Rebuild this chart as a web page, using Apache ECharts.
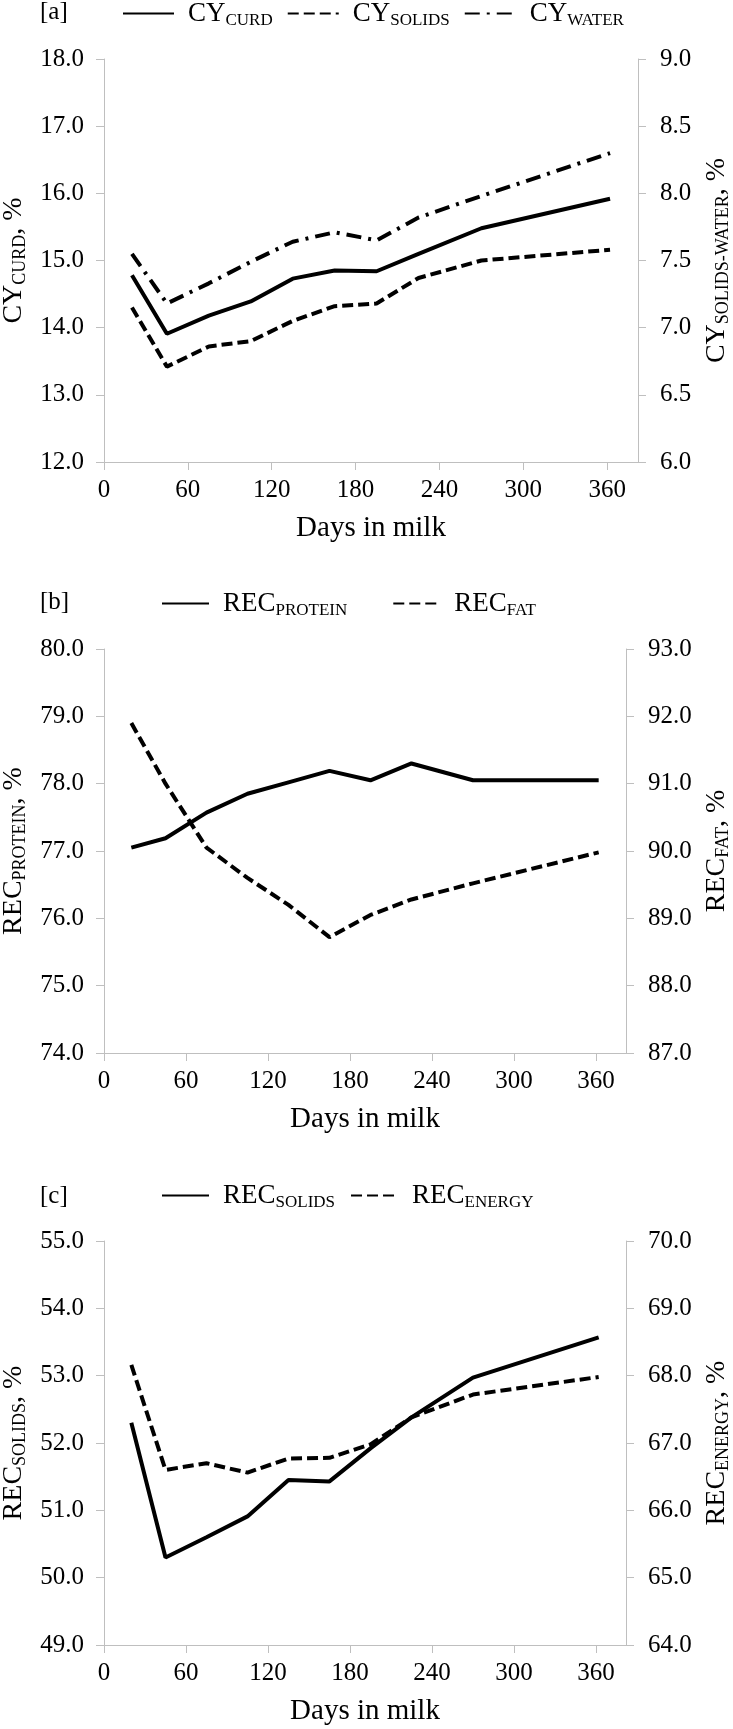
<!DOCTYPE html>
<html>
<head>
<meta charset="utf-8">
<title>Cheese yield and recovery vs days in milk</title>
<script src="https://cdn.jsdelivr.net/npm/echarts@6/dist/echarts.min.js"></script>
<style>
  html, body { margin: 0; padding: 0; background: #fff; }
  #chart { width: 733px; height: 1729px; }
</style>
</head>
<body>
<div id="chart"></div>
<script>
// days in milk at which each value was read
const days = [20, 45, 75, 105, 135, 165, 195, 225, 270, 362]
const xTicks = [0, 60, 120, 180, 240, 300, 360]

// [a] cheese yield, %
const cyCurd = [14.78, 13.91, 14.18, 14.39, 14.73, 14.85, 14.84, 15.10, 15.48, 15.92]
const cySolids = [7.15, 6.71, 6.86, 6.90, 7.05, 7.16, 7.18, 7.37, 7.50, 7.58]
const cyWater = [7.55, 7.18, 7.33, 7.49, 7.64, 7.71, 7.65, 7.82, 7.98, 8.30]

// [b] recovery of protein and fat, %
const recProtein = [77.05, 77.19, 77.57, 77.85, 78.02, 78.19, 78.05, 78.30, 78.05, 78.05]
const recFat = [91.90, 91.00, 90.05, 89.60, 89.20, 88.72, 89.05, 89.28, 89.52, 89.98]

// [c] recovery of solids and energy, %
const recSolids = [52.30, 50.30, 50.60, 50.91, 51.45, 51.43, 51.92, 52.38, 52.97, 53.57]
const recEnergy = [68.16, 66.60, 66.70, 66.56, 66.77, 66.78, 66.98, 67.38, 67.72, 67.98]

const FONT = "'Liberation Serif', 'Times New Roman', serif"
const AXIS_GREY = '#bfbfbf'

const pairs = (vals) => days.map((d, i) => [d, vals[i]])

// rich styles: m = main text, s = subscript, p = main text with a left gap (legend)
const richStyle = (size, subSize) => ({
  m: { fontFamily: FONT, fontSize: size, lineHeight: 32, color: '#000' },
  p: { fontFamily: FONT, fontSize: size, lineHeight: 32, color: '#000', padding: [0, 0, 0, 9] },
  s: { fontFamily: FONT, fontSize: subSize, lineHeight: 22, color: '#000', verticalAlign: 'bottom' }
})

const subName = (main, sub, tail) => `{m|${main}}{s|${sub}}` + (tail ? `{m|${tail}}` : '')

const legendNames = {
  'CY_CURD': '{p|CY}{s|CURD}',
  'CY_SOLIDS': '{p|CY}{s|SOLIDS}',
  'CY_WATER': '{p|CY}{s|WATER}',
  'REC_PROTEIN': '{p|REC}{s|PROTEIN}',
  'REC_FAT': '{p|REC}{s|FAT}',
  'REC_SOLIDS': '{p|REC}{s|SOLIDS}',
  'REC_ENERGY': '{p|REC}{s|ENERGY}'
}

// fixed plot boxes; outerBoundsMode none keeps echarts from shrinking them
const grids = [
  { left: 104, top: 59, width: 534, height: 403, outerBoundsMode: 'none' },
  { left: 104, top: 649, width: 522, height: 404, outerBoundsMode: 'none' },
  { left: 104, top: 1241, width: 522, height: 404, outerBoundsMode: 'none' }
]

const xAxis = grids.map((g, i) => ({
  type: 'value',
  gridIndex: i,
  min: 0,
  max: 382,
  interval: 60,
  name: 'Days in milk',
  nameLocation: 'middle',
  nameGap: 52,
  nameTextStyle: { fontFamily: FONT, fontSize: 29, color: '#000' },
  axisLine: { show: true, lineStyle: { color: AXIS_GREY, width: 1 } },
  axisTick: { show: true, length: 8, customValues: xTicks, lineStyle: { color: AXIS_GREY } },
  axisLabel: { customValues: xTicks, margin: 16, fontFamily: FONT, fontSize: 25, color: '#000' },
  splitLine: { show: false }
}))

const yAxisBase = (gridIndex, position, min, max, interval, name, nameGap, margin) => ({
  type: 'value',
  gridIndex,
  position,
  min,
  max,
  interval,
  name,
  nameLocation: 'middle',
  nameRotate: 90,
  nameGap,
  nameTextStyle: { rich: richStyle(28, 18) },
  axisLine: { show: true, lineStyle: { color: AXIS_GREY, width: 1 } },
  axisTick: { show: true, length: 8, lineStyle: { color: AXIS_GREY } },
  axisLabel: {
    margin,
    fontFamily: FONT,
    fontSize: 25,
    color: '#000',
    formatter: (v) => v.toFixed(1)
  },
  splitLine: { show: false }
})

const yAxis = [
  yAxisBase(0, 'left', 12, 18, 1, subName('CY', 'CURD', ', %'), 65, 20),
  yAxisBase(0, 'right', 6, 9, 0.5, subName('CY', 'SOLIDS-WATER', ', %'), 61, 22),
  yAxisBase(1, 'left', 74, 80, 1, subName('REC', 'PROTEIN', ', %'), 65, 20),
  yAxisBase(1, 'right', 87, 93, 1, subName('REC', 'FAT', ', %'), 73, 22),
  yAxisBase(2, 'left', 49, 55, 1, subName('REC', 'SOLIDS', ', %'), 65, 20),
  yAxisBase(2, 'right', 64, 70, 1, subName('REC', 'ENERGY', ', %'), 73, 22)
]

const SOLID = 'solid'
const DASH = [11, 5]
const DASH_DOT = [15, 7, 3, 7]

const line = (name, vals, xi, yi, type) => ({
  name,
  type: 'line',
  xAxisIndex: xi,
  yAxisIndex: yi,
  data: pairs(vals),
  symbol: 'none',
  itemStyle: { color: '#000' },
  lineStyle: { color: '#000', width: 4, type },
  animation: false
})

const series = [
  line('CY_CURD', cyCurd, 0, 0, SOLID),
  line('CY_SOLIDS', cySolids, 0, 1, DASH),
  line('CY_WATER', cyWater, 0, 1, DASH_DOT),
  line('REC_PROTEIN', recProtein, 1, 2, SOLID),
  line('REC_FAT', recFat, 1, 3, DASH),
  line('REC_SOLIDS', recSolids, 2, 4, SOLID),
  line('REC_ENERGY', recEnergy, 2, 5, DASH)
]

// legend shows only the line sample: the marker that echarts adds is made invisible
const legend = (names, left, top, itemWidth, itemGap) => ({
  data: names,
  left,
  top,
  orient: 'horizontal',
  padding: 0,
  itemWidth,
  itemHeight: 30,
  itemGap,
  selectedMode: false,
  itemStyle: { color: 'rgba(0,0,0,0)', borderWidth: 0, opacity: 0 },
  formatter: (n) => legendNames[n],
  textStyle: { rich: richStyle(27, 17) }
})

const panelTitle = (text, top) => ({
  text,
  left: 40,
  top,
  padding: 0,
  textStyle: { fontFamily: FONT, fontSize: 25, fontWeight: 'normal', color: '#000' }
})

const chart = echarts.init(document.getElementById('chart'), null, { renderer: 'canvas' })
chart.setOption({
  backgroundColor: '#fff',
  animation: false,
  title: [panelTitle('[a]', 0), panelTitle('[b]', 590), panelTitle('[c]', 1184)],
  legend: [
    legend(['CY_CURD', 'CY_SOLIDS', 'CY_WATER'], 122, 0, 51, 14),
    legend(['REC_PROTEIN', 'REC_FAT'], 161, 590, 47, 45),
    legend(['REC_SOLIDS', 'REC_ENERGY'], 161, 1182, 47, 15)
  ],
  grid: grids,
  xAxis,
  yAxis,
  series
})
</script>
</body>
</html>
